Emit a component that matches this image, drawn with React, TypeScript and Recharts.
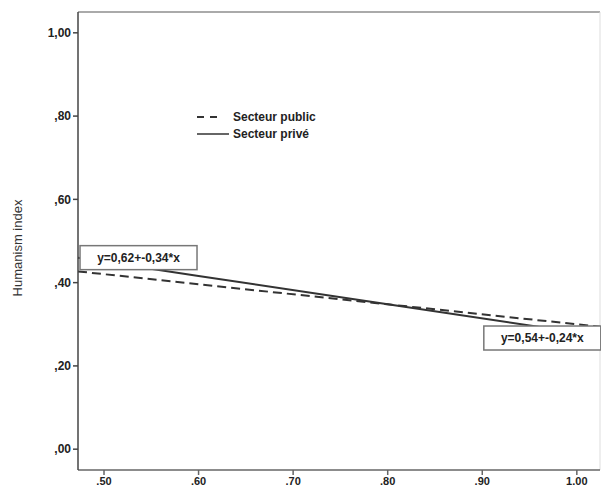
import React from "react";
import {
  LineChart, Line, XAxis, YAxis, ReferenceLine, ReferenceDot,
} from "recharts";

const xValues = [0.4725, 0.6, 0.8, 1.0245];
const secteurPrive = [0.46, 0.416, 0.348, 0.272];
const secteurPublic = [0.427, 0.396, 0.348, 0.294];
const xTicks = [0.5, 0.6, 0.7, 0.8, 0.9, 1.0];
const yTicks = [0, 0.2, 0.4, 0.6, 0.8, 1.0];
const equations = [
  { x: 0.5365, y: 0.46, text: "y=0,62+-0,34*x" },
  { x: 0.9635, y: 0.267, text: "y=0,54+-0,24*x" },
];

const data = xValues.map((x, i) => ({ x, prive: secteurPrive[i], public: secteurPublic[i] }));

const font = "'Liberation Sans', Arial, sans-serif";
const fmtY = (v: number) => (v >= 1 ? "1,00" : "," + Math.round(v * 100).toString().padStart(2, "0"));
const fmtX = (v: number) => (v >= 1 ? "1.00" : "." + Math.round(v * 100).toString().padStart(2, "0"));

const EqBox = (text: string) => (props: any) => {
  const { cx, cy } = props;
  const w = 117, h = 24;
  return (
    <g>
      <rect x={cx - w / 2} y={cy - h / 2} width={w} height={h} fill="#fff" stroke="#777" strokeWidth={1.5} />
      <text x={cx} y={cy + 4} textAnchor="middle" fontFamily={font} fontWeight="bold" fontSize={12} fill="#222">
        {text}
      </text>
    </g>
  );
};

export default function App() {
  return (
    <div style={{ position: "absolute", left: 0, top: 0, width: 601, height: 491, background: "#fff" }}>
      <LineChart width={601} height={491} data={data} margin={{ top: 12, right: 1, bottom: 0, left: 0 }}>
        <XAxis
          dataKey="x" type="number" domain={[0.4725, 1.0245]} ticks={xTicks} tickFormatter={fmtX}
          height={21} stroke="#666" strokeWidth={1.5} tickSize={5}
          tick={{ fontFamily: font, fontWeight: "bold", fontSize: 11, fill: "#222" }}
        />
        <YAxis
          type="number" domain={[-0.05, 1.05]} ticks={yTicks} tickFormatter={fmtY}
          width={78} stroke="#444" strokeWidth={1.5} tickSize={5}
          tick={{ fontFamily: font, fontWeight: "bold", fontSize: 12, fill: "#222" }}
          label={{
            content: () => (
              <text transform="translate(22,248) rotate(-90)" textAnchor="middle" fontFamily={font} fontSize={13} fill="#333">
                Humanism index
              </text>
            ),
          }}
        />
        <ReferenceLine y={1.05} stroke="#aaa" strokeWidth={2} />
        <ReferenceLine x={1.0245} stroke="#ddd" strokeWidth={1} />
        <Line dataKey="public" stroke="#333" strokeWidth={2} strokeDasharray="9 5" dot={false} isAnimationActive={false} />
        <Line dataKey="prive" stroke="#333" strokeWidth={2} dot={false} isAnimationActive={false} />
        {equations.map((e) => (
          <ReferenceDot key={e.text} x={e.x} y={e.y} r={0} shape={EqBox(e.text)} />
        ))}
      </LineChart>
      <svg width={140} height={40} style={{ position: "absolute", left: 195, top: 108 }}>
        <line x1={2} y1={9} x2={24} y2={9} stroke="#333" strokeWidth={2} strokeDasharray="7 6" />
        <text x={38} y={13} fontFamily={font} fontWeight="bold" fontSize={12} fill="#222">Secteur public</text>
        <line x1={2} y1={26} x2={34} y2={26} stroke="#333" strokeWidth={1.5} />
        <text x={38} y={30} fontFamily={font} fontWeight="bold" fontSize={12} fill="#222">Secteur privé</text>
      </svg>
    </div>
  );
}
